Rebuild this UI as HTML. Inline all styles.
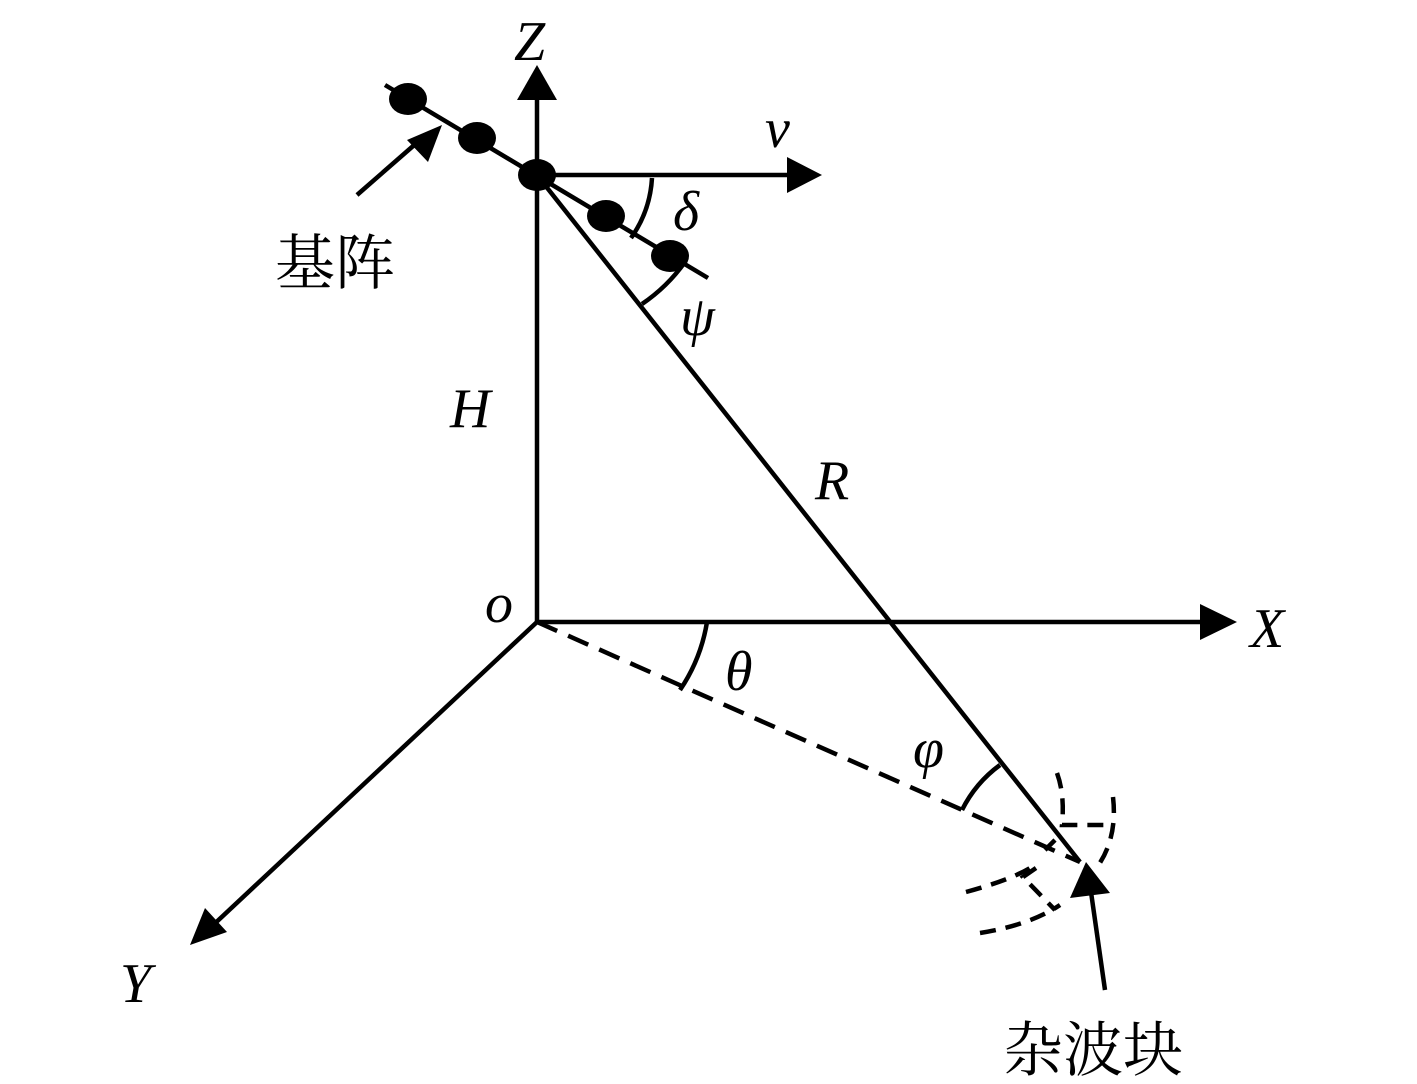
<!DOCTYPE html>
<html><head><meta charset="utf-8"><style>body{margin:0;background:#fff}svg{display:block}</style></head>
<body>
<svg width="1417" height="1084" viewBox="0 0 1417 1084" xmlns="http://www.w3.org/2000/svg">
<g stroke="#000" stroke-width="4.5" fill="none">
<line x1="537" y1="622" x2="537" y2="95"/>
<line x1="537" y1="175" x2="795" y2="175"/>
<line x1="385" y1="85" x2="708" y2="278"/>
<line x1="537" y1="175" x2="1080" y2="862"/>
<line x1="537" y1="622" x2="1205" y2="622"/>
<line x1="537" y1="622" x2="210" y2="928"/>
<line x1="537" y1="622" x2="1080" y2="862" stroke-dasharray="22,12"/>
<line x1="1105" y1="990" x2="1090" y2="885"/>
<line x1="357" y1="195" x2="420" y2="140"/>
<path d="M652,178 A115,115 0 0 1 631,238"/>
<path d="M685,262 A170,170 0 0 1 642,304"/>
<path d="M707,622 A170,170 0 0 1 680,690"/>
<path d="M1000,765 A125,125 0 0 0 962,810"/>
<g stroke-dasharray="16,10">
<path d="M1057,773 Q1065,795 1062,825 L1113,825"/>
<path d="M1113,797 Q1118,840 1095,870"/>
<path d="M1055,840 L1045,850"/>
<path d="M1036,868 L1023,877 L1055,910"/>
<path d="M966,892 Q1010,880 1030,868"/>
<path d="M980,933 Q1030,925 1060,905"/>
</g>
</g>
<g fill="#000">
<polygon points="537,65 517,100 557,100"/>
<polygon points="822,175 787,157 787,193"/>
<polygon points="1237,622 1200,604 1200,640"/>
<polygon points="190,945 205,908 227,932"/>
<polygon points="442,125 428,162 407,140"/>
<polygon points="1086,862 1070,898 1110,893"/>
<ellipse cx="408" cy="99" rx="19" ry="16"/>
<ellipse cx="477" cy="138" rx="19" ry="16"/>
<ellipse cx="537" cy="175" rx="19" ry="16"/>
<ellipse cx="606" cy="216" rx="19" ry="16"/>
<ellipse cx="670" cy="256" rx="19" ry="16"/>
</g>
<g font-family="'Liberation Serif', serif" font-style="italic" font-size="56" fill="#000">
<text x="514" y="60">Z</text>
<text x="765" y="147">v</text>
<text x="673" y="230">δ</text>
<text x="680" y="335">ψ</text>
<text x="450" y="427">H</text>
<text x="815" y="499">R</text>
<text x="485" y="622">o</text>
<text x="1250" y="647">X</text>
<text x="725" y="690">θ</text>
<text x="913" y="767">φ</text>
<text x="120" y="1002">Y</text>
</g>
<g font-family="'Liberation Serif', 'Noto Serif CJK SC', serif" font-size="60" fill="#000">
<text x="275" y="284">基阵</text>
<text x="1003" y="1071">杂波块</text>
</g>
</svg>
</body></html>
